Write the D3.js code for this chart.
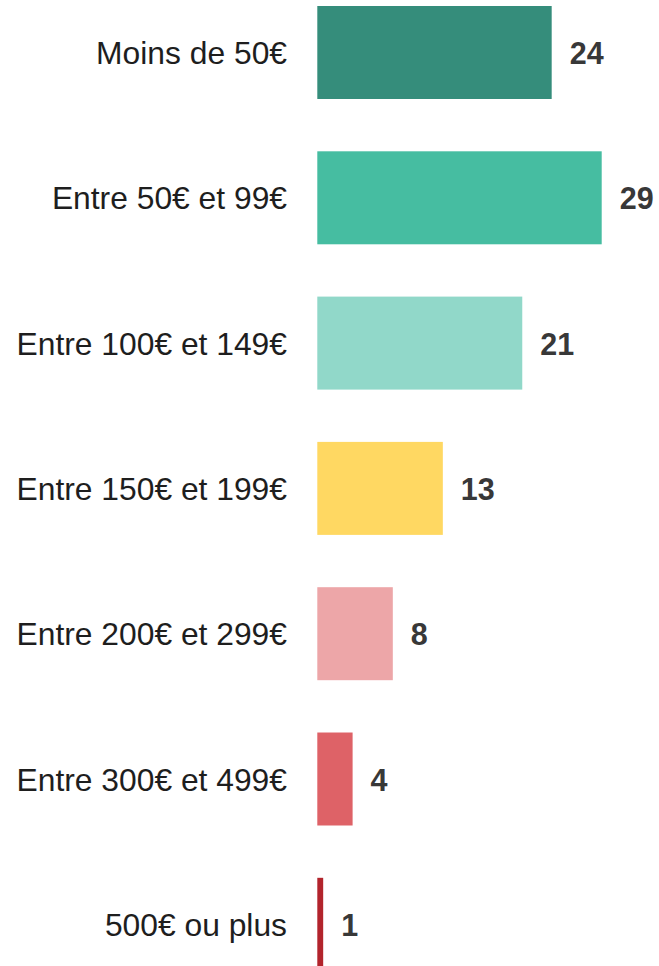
<!DOCTYPE html>
<html>
<head>
<meta charset="utf-8">
<script src="https://cdn.jsdelivr.net/npm/d3@7"></script>
<style>
  html, body { margin: 0; padding: 0; background: #ffffff; }
  svg { display: block; }
</style>
</head>
<body>
<div id="chart"></div>
<script>
const categories = [
  "Moins de 50€",
  "Entre 50€ et 99€",
  "Entre 100€ et 149€",
  "Entre 150€ et 199€",
  "Entre 200€ et 299€",
  "Entre 300€ et 499€",
  "500€ ou plus"
];
const values = [23.9, 29.0, 20.9, 12.8, 7.7, 3.6, 0.6];
const valueLabels = ["24", "29", "21", "13", "8", "4", "1"];
const colors = ["#358d7b", "#46bda1", "#91d8c9", "#ffd862", "#eda6a8", "#de6267", "#b2242c"];

const W = 659, H = 966;
const svg = d3.select("#chart").append("svg").attr("width", W).attr("height", H);

const x = d3.scaleLinear().domain([0, 29]).range([317.3, 601.7]);
const y = d3.scaleBand().domain(categories).range([6, 970.8]).paddingInner(0.36).paddingOuter(0);

const data = categories.map((c, i) => ({ c, v: values[i], label: valueLabels[i], color: colors[i] }));

svg.selectAll("rect.bar").data(data).join("rect")
  .attr("class", "bar")
  .attr("x", x(0))
  .attr("y", d => y(d.c))
  .attr("width", d => x(d.v) - x(0))
  .attr("height", y.bandwidth())
  .attr("fill", d => d.color);

svg.selectAll("text.cat").data(data).join("text")
  .attr("class", "cat")
  .attr("x", 287)
  .attr("y", d => y(d.c) + y.bandwidth() / 2 + 11.5)
  .attr("text-anchor", "end")
  .attr("font-family", "'Liberation Sans', Arial, sans-serif")
  .attr("font-size", 31.8)
  .attr("fill", "#1e1e1e")
  .text(d => d.c);

svg.selectAll("text.val").data(data).join("text")
  .attr("class", "val")
  .attr("x", d => x(d.v) + 18)
  .attr("y", d => y(d.c) + y.bandwidth() / 2 + 11.5)
  .attr("text-anchor", "start")
  .attr("font-family", "'Liberation Sans', Arial, sans-serif")
  .attr("font-weight", "bold")
  .attr("font-size", 30.5)
  .attr("fill", "#383838")
  .text(d => d.label);
</script>
</body>
</html>
